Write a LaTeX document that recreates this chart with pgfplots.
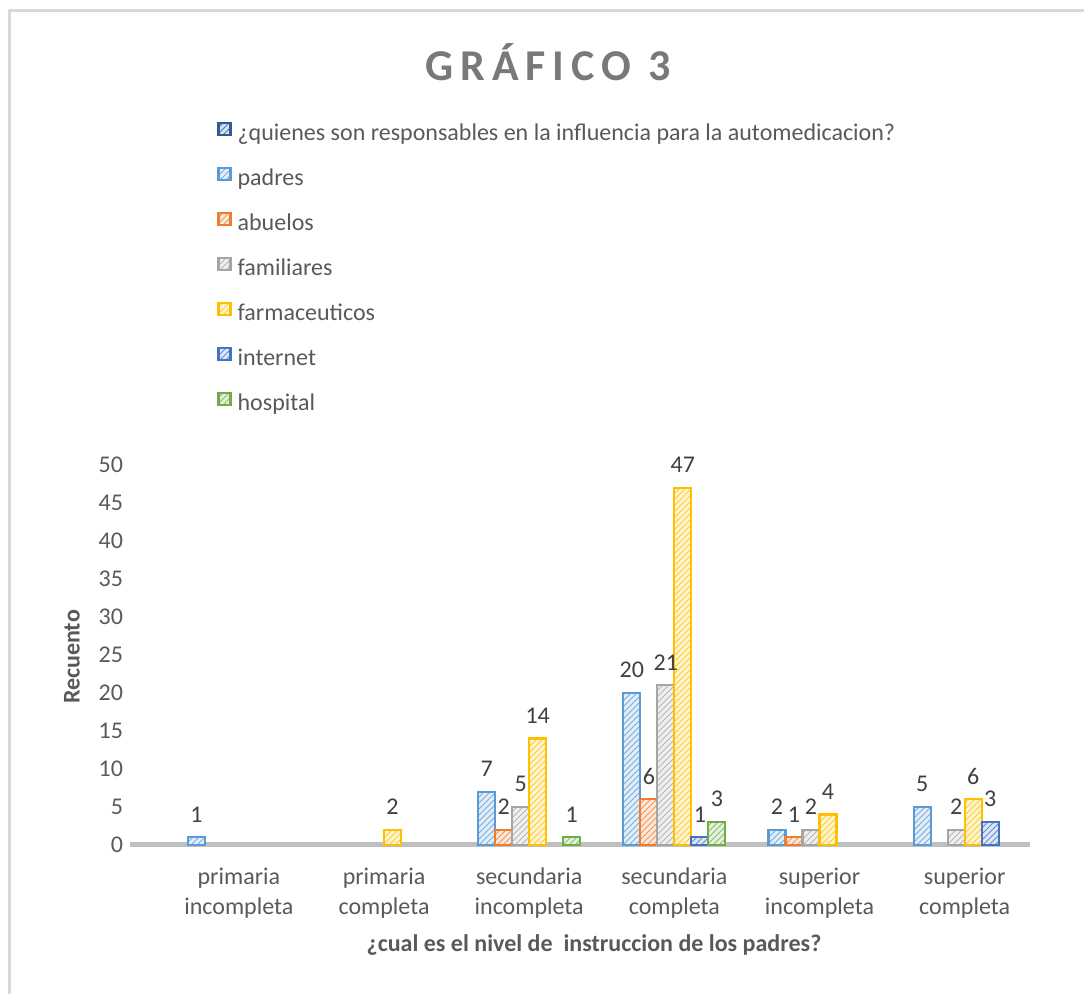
\documentclass[border=0pt]{standalone}
\usepackage{pgfplots}
\pgfplotsset{compat=1.18}
\usetikzlibrary{patterns}
\usepackage{fontspec}
\setmainfont{Carlito}
\newfontfamily\titlefont[LetterSpace=16]{Carlito}

\definecolor{cHeader}{HTML}{2E5A9C}
\definecolor{cPadres}{HTML}{5B9BD5}
\definecolor{cAbuelos}{HTML}{ED7D31}
\definecolor{cFamiliares}{HTML}{A5A5A5}
\definecolor{cFarma}{HTML}{FFC000}
\definecolor{cInternet}{HTML}{4472C4}
\definecolor{cHospital}{HTML}{70AD47}
\definecolor{txt}{HTML}{595959}
\definecolor{vtxt}{HTML}{404040}
\definecolor{floorgray}{HTML}{BFBFBF}
\definecolor{framegray}{HTML}{D9D9D9}

\newcommand{\lbl}{\fontsize{12}{15}\selectfont}

\pgfplotsset{
  hatched/.style={draw=#1, line width=1.1pt, fill=#1!18,
    postaction={pattern=north east lines, pattern color=#1!80}},
}

\begin{document}
\begin{tikzpicture}
\path[use as bounding box] (0,0) rectangle (542pt,497pt);
\draw[framegray, line width=1.5pt] (4.5pt,-2pt) -- (4.5pt,491.5pt) -- (545pt,491.5pt);

\node[text=gray!95!black, font=\titlefont\fontsize{22}{26}\selectfont\bfseries] at (274pt,466pt) {GRÁFICO 3};

\begin{axis}[
  at={(65pt,74.5pt)}, anchor=south west,
  scale only axis, width=450pt, height=190pt,
  xmin=-0.75, xmax=5.45, ymin=0, ymax=50,
  clip=false,
  ybar, bar width=8.5pt,
  axis x line*=bottom, axis y line*=left,
  x axis line style={draw=floorgray, line width=2.5pt},
  y axis line style={draw=none},
  major tick length=0pt,
  ytick={0,5,...,50},
  xtick={0,...,5},
  xticklabels={{primaria\\incompleta},{primaria\\completa},{secundaria\\incompleta},{secundaria\\completa},{superior\\incompleta},{superior\\completa}},
  xticklabel style={align=center, font=\lbl, text=txt, yshift=-8pt},
  yticklabel style={font=\lbl, text=txt},
  /pgf/number format/assume math mode=true,
  nodes near coords,
  every node near coord/.append style={font=\lbl, text=vtxt, anchor=center, yshift=11.5pt},
  legend style={at={(axis description cs:0.0967,1.905)}, anchor=north west,
    draw=none, fill=none, inner sep=0pt, font=\lbl, text=txt,
    nodes={inner sep=0pt, text height=8pt, text depth=2.5pt},
    row sep=10.7pt,
    /tikz/every odd column/.append style={column sep=3pt}},
  legend cell align=left,
  legend image code/.code={\draw[#1] (0pt,0pt) rectangle (6pt,6pt);},
]
\addlegendimage{hatched=cHeader}
\addlegendentry{¿quienes son responsables en la influencia para la automedicacion?}

\addplot[hatched=cPadres, bar shift=-21.25pt] coordinates {(0,1) (2,7) (3,20) (4,2) (5,5)};
\addlegendentry{padres}
\addplot[hatched=cAbuelos, bar shift=-12.75pt] coordinates {(2,2) (3,6) (4,1)};
\addlegendentry{abuelos}
\addplot[hatched=cFamiliares, bar shift=-4.25pt] coordinates {(2,5) (3,21) (4,2) (5,2)};
\addlegendentry{familiares}
\addplot[hatched=cFarma, bar shift=4.25pt] coordinates {(1,2) (2,14) (3,47) (4,4) (5,6)};
\addlegendentry{farmaceuticos}
\addplot[hatched=cInternet, bar shift=12.75pt] coordinates {(3,1) (5,3)};
\addlegendentry{internet}
\addplot[hatched=cHospital, bar shift=21.25pt] coordinates {(2,1) (3,3)};
\addlegendentry{hospital}
\end{axis}

\node[rotate=90, font=\lbl\bfseries, text=txt] at (36pt,168.5pt) {Recuento};
\node[font=\lbl\bfseries, text=txt] at (297pt,24.5pt) {¿cual es el nivel de\ \ instruccion de los padres?};
\end{tikzpicture}
\end{document}
